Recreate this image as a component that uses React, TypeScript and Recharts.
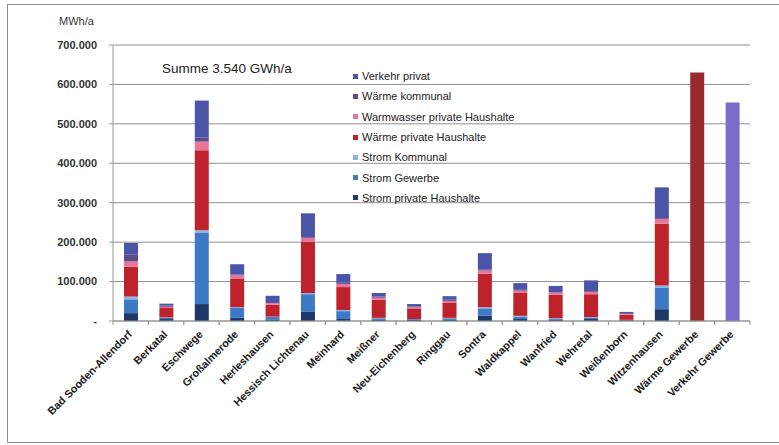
import { BarChart, Bar, XAxis, YAxis, CartesianGrid } from 'recharts';

const gemeinden = [
  'Bad Sooden-Allendorf',
  'Berkatal',
  'Eschwege',
  'Großalmerode',
  'Herleshausen',
  'Hessisch Lichtenau',
  'Meinhard',
  'Meißner',
  'Neu-Eichenberg',
  'Ringgau',
  'Sontra',
  'Waldkappel',
  'Wanfried',
  'Wehretal',
  'Weißenborn',
  'Witzenhausen',
  'Wärme Gewerbe',
  'Verkehr Gewerbe',
];

// MWh/a per Gemeinde, stacked bottom to top
const stromPrivat = [20000, 5000, 43000, 8000, 4000, 23000, 5000, 4000, 3000, 4000, 14000, 5000, 3000, 5000, 2000, 30000, 0, 0];
const stromGewerbe = [35000, 3000, 180000, 25000, 6000, 45000, 20000, 3000, 2000, 3000, 18000, 6000, 3000, 4000, 1000, 55000, 0, 0];
const stromKommunal = [7000, 1000, 7000, 2000, 1000, 3000, 3000, 1000, 0, 1000, 3000, 2000, 1000, 1000, 0, 5000, 0, 0];
const waermePrivat = [76000, 24000, 203000, 73000, 30000, 130000, 58000, 46000, 27000, 39000, 85000, 58000, 60000, 58000, 13000, 157000, 0, 0];
const warmwasserPrivat = [13000, 3000, 22000, 8000, 4000, 10000, 8000, 5000, 3000, 4000, 8000, 6000, 5000, 6000, 2000, 12000, 0, 0];
const waermeKommunal = [17000, 3000, 10000, 2000, 3000, 2000, 3000, 3000, 2000, 3000, 2000, 2000, 1000, 2000, 2000, 2000, 0, 0];
const verkehrPrivat = [30000, 5000, 94000, 26000, 16000, 60000, 22000, 9000, 6000, 9000, 42000, 17000, 16000, 27000, 3000, 78000, 0, 0];
const waermeGewerbe = [0, 0, 0, 0, 0, 0, 0, 0, 0, 0, 0, 0, 0, 0, 0, 0, 630000, 0];
const verkehrGewerbe = [0, 0, 0, 0, 0, 0, 0, 0, 0, 0, 0, 0, 0, 0, 0, 0, 0, 554000];

const yTicks = [0, 100000, 200000, 300000, 400000, 500000, 600000, 700000];

const SERIES = [
  { key: 'stromPrivat', name: 'Strom private Haushalte', color: '#1F3769', legend: true },
  { key: 'stromGewerbe', name: 'Strom Gewerbe', color: '#3D79C6', legend: true },
  { key: 'stromKommunal', name: 'Strom Kommunal', color: '#8DB3E2', legend: true },
  { key: 'waermePrivat', name: 'Wärme private Haushalte', color: '#BE232C', legend: true },
  { key: 'warmwasserPrivat', name: 'Warmwasser private Haushalte', color: '#E8769A', legend: true },
  { key: 'waermeKommunal', name: 'Wärme kommunal', color: '#5E4B8B', legend: true },
  { key: 'verkehrPrivat', name: 'Verkehr privat', color: '#4A55A8', legend: true },
  { key: 'waermeGewerbe', name: 'Wärme Gewerbe', color: '#972A2D', legend: false },
  { key: 'verkehrGewerbe', name: 'Verkehr Gewerbe', color: '#7A6CC8', legend: false },
];

const rows = gemeinden.map((name, i) => ({
  name,
  stromPrivat: stromPrivat[i],
  stromGewerbe: stromGewerbe[i],
  stromKommunal: stromKommunal[i],
  waermePrivat: waermePrivat[i],
  warmwasserPrivat: warmwasserPrivat[i],
  waermeKommunal: waermeKommunal[i],
  verkehrPrivat: verkehrPrivat[i],
  waermeGewerbe: waermeGewerbe[i],
  verkehrGewerbe: verkehrGewerbe[i],
}));

const W = 779;
const H = 445;
const M = { top: 45, right: 29, bottom: 0, left: 0 };
const Y_W = 113;
const STEP = (W - M.right - M.left - Y_W) / gemeinden.length;
const FONT = 'Liberation Sans, Arial, sans-serif';

const fmt = (v: number) => (v === 0 ? '-' : `${v / 1000}.000`);

function GemeindeTick(props: any) {
  const { x, y, payload } = props;
  const tx = x + 2;
  const ty = y + 6;
  return (
    <g>
      <line x1={x - STEP / 2} x2={x - STEP / 2} y1={y - 8} y2={y - 4} stroke="#999" />
      <line x1={x + STEP / 2} x2={x + STEP / 2} y1={y - 8} y2={y - 4} stroke="#999" />
      <text
        x={tx}
        y={ty}
        textAnchor="end"
        transform={`rotate(-45 ${tx} ${ty})`}
        fontSize={10.8}
        fontWeight="bold"
        fill="#1a1a1a"
        fontFamily={FONT}
      >
        {payload.value}
      </text>
    </g>
  );
}

function LegendBox() {
  const items = SERIES.filter((s) => s.legend).reverse();
  return (
    <div style={{ position: 'absolute', left: 353, top: 66, fontFamily: FONT, fontSize: 11, color: '#222' }}>
      {items.map((s) => (
        <div key={s.key} style={{ display: 'flex', alignItems: 'center', height: 20.3 }}>
          <span style={{ width: 5, height: 5, background: s.color, marginRight: 4, display: 'inline-block' }} />
          {s.name}
        </div>
      ))}
    </div>
  );
}

export default function App() {
  return (
    <div style={{ position: 'absolute', left: 0, top: 0, width: W, height: H, background: '#fff', overflow: 'hidden' }}>
      <div
        style={{
          position: 'absolute',
          left: 7,
          top: 4,
          width: W + 20,
          height: 439,
          border: '1px solid #8c8c8c',
          boxSizing: 'border-box',
        }}
      />
      <div style={{ position: 'absolute', left: 59, top: 15, fontFamily: FONT, fontSize: 11, color: '#333' }}>
        MWh/a
      </div>
      <div style={{ position: 'absolute', left: 162, top: 61, fontFamily: FONT, fontSize: 13.5, color: '#222' }}>
        Summe 3.540 GWh/a
      </div>
      <BarChart width={W} height={H} data={rows} margin={M} barSize={14} style={{ position: 'absolute', left: 0, top: 0 }}>
        <CartesianGrid vertical={false} stroke="#8f8f8f" />
        <XAxis
          dataKey="name"
          interval={0}
          height={H - 321 - M.bottom}
          tickLine={false}
          stroke="#999"
          tick={<GemeindeTick />}
        />
        <YAxis
          width={Y_W}
          domain={[0, 700000]}
          ticks={yTicks}
          tickFormatter={fmt}
          tickSize={4}
          tickMargin={12}
          stroke="#999"
          tick={{ fontSize: 11, fill: '#333', fontFamily: FONT, fontWeight: 'bold' }}
        />
        {SERIES.map((s) => (
          <Bar key={s.key} dataKey={s.key} name={s.name} stackId="a" fill={s.color} isAnimationActive={false} />
        ))}
      </BarChart>
      <LegendBox />
    </div>
  );
}
